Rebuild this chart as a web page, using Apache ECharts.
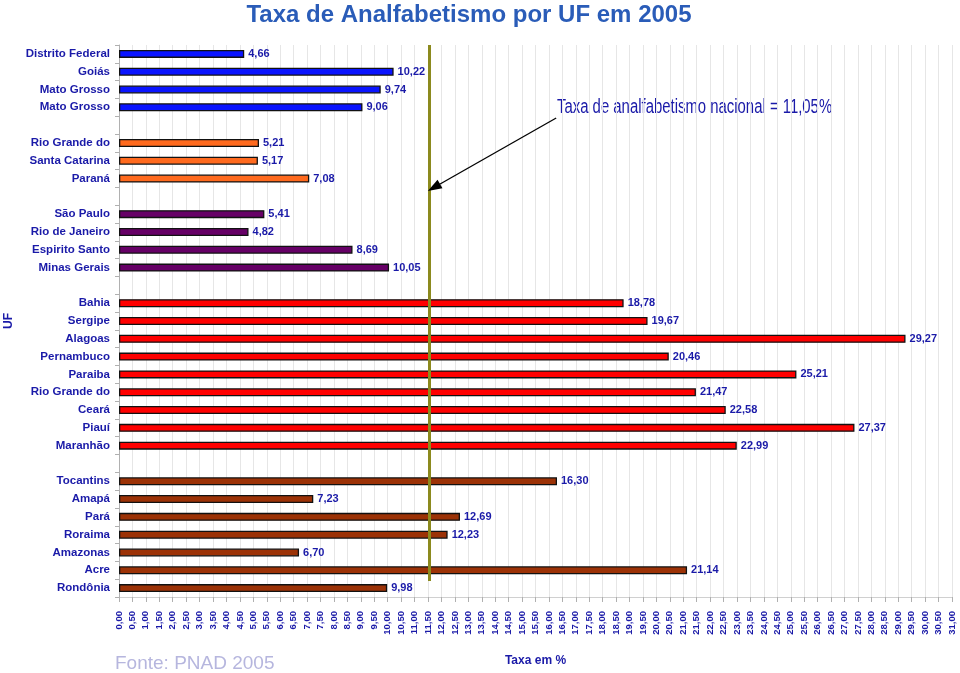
<!DOCTYPE html>
<html><head><meta charset="utf-8">
<script src="https://cdn.jsdelivr.net/npm/echarts@6/dist/echarts.min.js"></script>
<style>html,body{margin:0;padding:0;background:#fff}#c{width:960px;height:673px}</style>
</head><body><div id="c"></div>
<script>
// Categories (empty strings = gaps between regions)
const centroOesteNames = ['Distrito Federal','Goiás','Mato Grosso','Mato Grosso'];
const sulNames = ['Rio Grande do','Santa Catarina','Paraná'];
const sudesteNames = ['São Paulo','Rio de Janeiro','Espirito Santo','Minas Gerais'];
const nordesteNames = ['Bahia','Sergipe','Alagoas','Pernambuco','Paraiba','Rio Grande do','Ceará','Piauí','Maranhão'];
const norteNames = ['Tocantins','Amapá','Pará','Roraima','Amazonas','Acre','Rondônia'];

// Values (%)
const centroOeste = [4.66, 10.22, 9.74, 9.06];
const sul = [5.21, 5.17, 7.08];
const sudeste = [5.41, 4.82, 8.69, 10.05];
const nordeste = [18.78, 19.67, 29.27, 20.46, 25.21, 21.47, 22.58, 27.37, 22.99];
const norte = [16.30, 7.23, 12.69, 12.23, 6.70, 21.14, 9.98];

// National rate reference line (as drawn in the picture) and annotation text
const nationalLineX = 11.55;
const nationalText = 'Taxa de analfabetismo nacional = 11,05%';

const xMin = 0, xMax = 31, xStep = 0.5;

const regions = [
  {names: centroOesteNames, values: centroOeste, color: '#0a14ff'},
  {names: sulNames, values: sul, color: '#ff6a1e'},
  {names: sudesteNames, values: sudeste, color: '#660066'},
  {names: nordesteNames, values: nordeste, color: '#ff0000'},
  {names: norteNames, values: norte, color: '#9c3206'}
];

const categories = [];
const barData = [];
regions.forEach((r, ri) => {
  if (ri > 0) { categories.push(''); barData.push(null); }
  r.names.forEach((n, i) => {
    categories.push(n);
    barData.push({value: r.values[i], itemStyle: {color: r.color}});
  });
});

const fmt = v => v.toFixed(2).replace('.', ',');
const blue = '#1a1aa8';
const sans = "'Liberation Sans',Arial,sans-serif";

const chart = echarts.init(document.getElementById('c'));
chart.setOption({
  animation: false,
  title: {
    text: 'Taxa de Analfabetismo por UF em 2005',
    left: 464, textAlign: 'center', top: -2,
    textStyle: {color: '#2a5cb8', fontSize: 24, fontWeight: 'bold', fontFamily: sans}
  },
  grid: {left: 119, right: 8, top: 45, bottom: 76, containLabel: false, outerBoundsMode: 'none'},
  xAxis: {
    type: 'value', min: xMin, max: xMax, interval: xStep,
    name: 'Taxa em %', nameLocation: 'middle', nameGap: 58,
    nameTextStyle: {color: blue, fontWeight: 'bold', fontSize: 12, fontFamily: sans},
    axisLine: {show: true, onZero: false, lineStyle: {color: '#d0d0d0'}},
    axisTick: {show: true, length: 5, lineStyle: {color: '#b0b0b0'}},
    splitLine: {show: true, lineStyle: {color: '#e6e6e6', width: 1}},
    axisLabel: {rotate: 90, margin: 14, color: blue, fontWeight: 'bold', fontSize: 9.5, fontFamily: sans, formatter: fmt, interval: 0, showMinLabel: true, showMaxLabel: true}
  },
  yAxis: [{
    type: 'category', data: categories, inverse: true,
    name: 'UF', nameLocation: 'middle', nameGap: 104, nameRotate: 90,
    nameTextStyle: {color: blue, fontWeight: 'bold', fontSize: 12, fontFamily: sans},
    axisLine: {show: true, lineStyle: {color: '#b0b0b0'}},
    axisTick: {show: true, length: 4, alignWithLabel: false, lineStyle: {color: '#b0b0b0'}},
    axisLabel: {margin: 9, color: blue, fontWeight: 'bold', fontSize: 11.5, fontFamily: sans, interval: 0},
    splitLine: {show: false}
  }, {
    type: 'value', min: -0.5, max: categories.length - 0.5, inverse: true, show: false,
    axisLine: {show: false, onZero: false}, axisTick: {show: false}, axisLabel: {show: false}, splitLine: {show: false}
  }],
  series: [{
    type: 'bar', data: barData, barWidth: 8,
    itemStyle: {borderColor: '#111', borderWidth: 1.3},
    label: {show: true, position: 'right', distance: 4, color: blue, fontWeight: 'bold', fontSize: 11, fontFamily: sans,
      formatter: p => fmt(p.value)}
  }, {
    type: 'line', yAxisIndex: 1, data: [], silent: true, showSymbol: false,
    markLine: {
      silent: true, animation: false,
      label: {show: false},
      data: [
        [{coord: [nationalLineX, -0.5], symbol: 'none', lineStyle: {color: '#8c8a1e', width: 3, type: 'solid'}},
         {coord: [nationalLineX, 29.6], symbol: 'none'}],
        [{coord: [16.27, 3.6], symbol: 'none', lineStyle: {color: '#000', width: 1.3, type: 'solid'}},
         {coord: [11.72, 7.5], symbol: 'triangle', symbolSize: [10, 14]}]
      ]
    }
  }],
  graphic: [
    {type: 'text', left: 557, top: 97, scaleX: 0.745, style: {text: nationalText, fill: blue, font: "20px " + sans}},
    {type: 'text', left: 115, top: 654, style: {text: 'Fonte: PNAD 2005', fill: '#b6b6de', font: "19px " + sans}}
  ]
});
</script></body></html>
